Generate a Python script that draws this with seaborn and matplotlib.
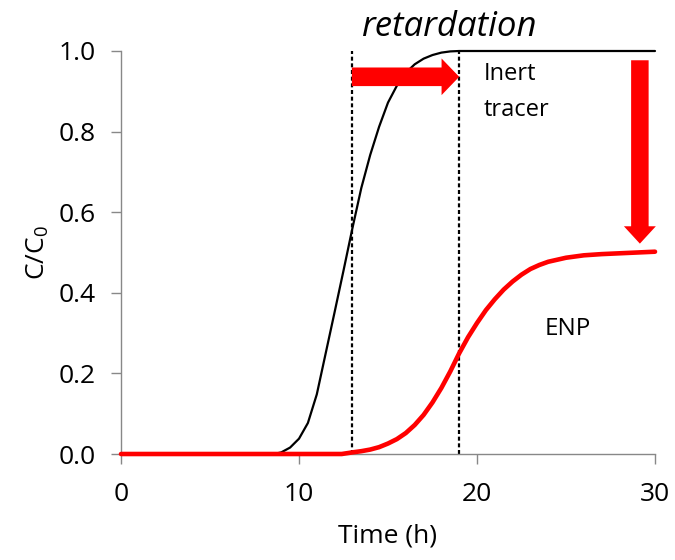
import matplotlib
matplotlib.use("Agg")
import matplotlib.pyplot as plt
import seaborn as sns
import pandas as pd

# Data
tracer_t = [0, 8.6, 9.0, 9.5, 10.0, 10.5, 11.0, 11.5, 12.0, 12.5, 13.0, 13.5, 14.0, 14.5,
            15.0, 15.5, 16.0, 16.5, 17.0, 17.5, 18.0, 18.5, 19.0, 30]
tracer_c = [0, 0, 0.004, 0.016, 0.038, 0.077, 0.148, 0.25, 0.352, 0.455, 0.56, 0.66, 0.742, 0.812,
            0.872, 0.914, 0.946, 0.967, 0.981, 0.99, 0.996, 0.999, 1.0, 1.0]
enp_t = [0, 12.4, 13.0, 13.5, 14.0, 14.5, 15.0, 15.5, 16.0, 16.5, 17.0, 17.5, 18.0, 18.5,
         19.0, 19.5, 20.0, 20.5, 21.0, 21.5, 22.0, 22.5, 23.0, 23.5, 24.0, 25.0, 26.0, 27.0,
         28.0, 30.0]
enp_c = [0, 0, 0.004, 0.007, 0.011, 0.017, 0.026, 0.037, 0.052, 0.072, 0.097, 0.128, 0.164, 0.205,
         0.25, 0.29, 0.325, 0.357, 0.384, 0.408, 0.428, 0.445, 0.459, 0.469, 0.477, 0.487, 0.493,
         0.496, 0.498, 0.502]
dashed_x = [13, 19]
x_ticks = [0, 10, 20, 30]
y_ticks = [0.0, 0.2, 0.4, 0.6, 0.8, 1.0]
shift_arrow = (12.97, 19.0, 0.936)     # x start, x end, y
drop_arrow = (29.15, 0.977, 0.522)     # x, y start, y end

sns.set_theme(style="white")
plt.rcParams['font.family'] = ['Open Sans', 'DejaVu Sans']
plt.rcParams['mathtext.default'] = 'regular'
plt.rcParams['text.color'] = 'black'
plt.rcParams['axes.labelcolor'] = 'black'

fig = plt.figure(figsize=(6.75, 5.6), dpi=100)
ax = fig.add_axes([121/675, 106/560, 534/675, 403/560])

df_tr = pd.DataFrame({"t": tracer_t, "c": tracer_c})
df_enp = pd.DataFrame({"t": enp_t, "c": enp_c})

for xv in dashed_x:
    ax.plot([xv, xv], [0, 1.0], color='black', lw=1.6, ls=(0, (1.8, 1.2)), zorder=2)

sns.lineplot(data=df_tr, x="t", y="c", ax=ax, color='black', lw=1.6, zorder=3)
sns.lineplot(data=df_enp, x="t", y="c", ax=ax, color='#ff0000', lw=3.3, zorder=4)

# arrows
ax.annotate('', xy=(shift_arrow[1], shift_arrow[2]), xytext=(shift_arrow[0], shift_arrow[2]),
            arrowprops=dict(arrowstyle='simple,head_length=1.27,head_width=2.64,tail_width=1.34',
                            mutation_scale=10, color='#ff0000', shrinkA=0, shrinkB=0, lw=0),
            zorder=5)
ax.annotate('', xy=(drop_arrow[0], drop_arrow[2]), xytext=(drop_arrow[0], drop_arrow[1]),
            arrowprops=dict(arrowstyle='simple,head_length=1.25,head_width=2.3,tail_width=1.26',
                            mutation_scale=10, color='#ff0000', shrinkA=0, shrinkB=0, lw=0),
            zorder=5)

ax.text(18.43, 1.037, 'retardation', style='italic', fontsize=25, ha='center', va='baseline')
ax.text(20.4, 0.928, 'Inert', fontsize=17, ha='left', va='baseline')
ax.text(20.4, 0.839, 'tracer', fontsize=17, ha='left', va='baseline')
ax.text(23.8, 0.295, 'ENP', fontsize=17.5, ha='left', va='baseline')

ax.set_xlim(0, 30)
ax.set_ylim(0, 1.0)
ax.set_xticks(x_ticks)
ax.set_yticks(y_ticks)
ax.set_xticklabels([str(v) for v in x_ticks])
ax.set_yticklabels([f"{v:.1f}" for v in y_ticks])
ax.tick_params(axis='both', labelsize=19, colors='#888888', labelcolor='black',
               direction='out', length=7, width=1, bottom=True, left=True)
ax.tick_params(axis='y', pad=11)
ax.tick_params(axis='x', pad=13)
ax.set_xlabel('Time (h)', fontsize=19, labelpad=12)
ax.set_ylabel('C/C$_0$', fontsize=19, labelpad=6)
for s in ['top', 'right']:
    ax.spines[s].set_visible(False)
for s in ['left', 'bottom']:
    ax.spines[s].set_color('#888888')
    ax.spines[s].set_linewidth(1)
ax.grid(False)
for ln in ax.get_lines():
    ln.set_clip_on(False)

fig.savefig('out.png', dpi=100)
